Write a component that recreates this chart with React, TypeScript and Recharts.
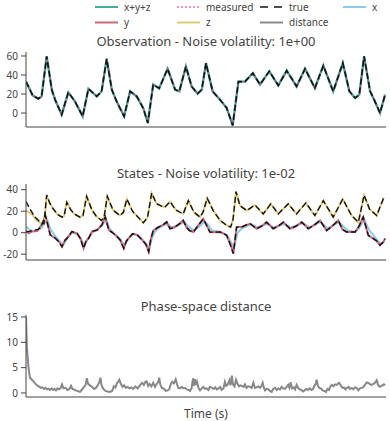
import React from 'react';
import { LineChart, Line, XAxis, YAxis } from 'recharts';

type P = [number, number];

// ---- data: [time (s), value] ----
const xTicks = [0, 3, 6, 9];
const obsTicks = [0, 20, 40, 60];
const stateTicks = [-20, 0, 20, 40];
const distTicks = [0, 5, 10, 15];

const observed: P[] = [[0,33],[0.11,26],[0.22,18.6],[0.41,15],[0.52,17.5],[0.69,59.6],[0.86,24.6],[0.97,14],[1.19,-1.7],[1.41,21.8],[1.63,12.3],[1.89,-3.5],[2.08,25.6],[2.36,17.5],[2.52,22.8],[2.69,57],[2.86,24.6],[3.02,12.3],[3.27,-3.5],[3.47,22.8],[3.69,17.5],[3.91,5],[4.06,-10.5],[4.24,30],[4.44,26],[4.72,46.6],[4.97,24.6],[5.11,22.8],[5.33,49],[5.52,28],[5.72,20.4],[5.86,24.6],[6.0,52.6],[6.22,22.8],[6.47,14],[6.69,5.3],[6.89,-13],[7.08,33],[7.3,33],[7.56,42],[7.8,30],[8.11,43.9],[8.41,29],[8.69,44.6],[9.02,28],[9.3,46.6],[9.63,26.3],[9.91,49.8],[10.24,22.8],[10.56,52.6],[10.78,22.8],[10.97,15.8],[11.11,19.3],[11.27,59.6],[11.47,22.8],[11.63,12.3],[11.8,0],[11.97,19.3]];

const zEst: P[] = [[0,20.6],[0.19,17.5],[0.36,11.4],[0.52,8.3],[0.6,8],[0.69,35],[0.8,27],[0.91,22],[1.05,17],[1.2,14.5],[1.27,15.5],[1.36,28.3],[1.5,21],[1.63,17],[1.8,14.5],[1.9,16],[2.02,33.8],[2.2,21],[2.35,15],[2.52,11.4],[2.6,14],[2.71,33.8],[2.9,21],[3.13,16],[3.25,19],[3.36,31.4],[3.55,20],[3.75,14],[3.91,9.2],[4.05,14],[4.19,36.9],[4.35,27],[4.5,25],[4.63,23.7],[4.8,28.9],[5.0,21],[5.24,17.5],[5.41,29.8],[5.6,19],[5.8,14.5],[5.9,19],[6.04,32],[6.24,20.6],[6.47,11.4],[6.69,6.8],[6.82,5.2],[6.9,12],[7.0,38.2],[7.13,25.2],[7.36,20.6],[7.63,25.8],[7.91,17.5],[8.16,26.8],[8.41,17.5],[8.74,26.8],[9.02,17.5],[9.33,27.7],[9.63,16],[9.91,29.8],[10.24,14.5],[10.56,31.4],[10.85,16],[11.08,9.8],[11.27,35],[11.45,22],[11.69,16],[11.93,32.9]];

const zTrueStart: P[] = [[0,29],[0.13,22],[0.3,14.5],[0.47,9.8],[0.6,8.3]];

const yEst: P[] = [[0,2],[0.09,-0.6],[0.2,1],[0.37,1.6],[0.48,5.6],[0.58,11],[0.64,16.5],[0.72,8],[0.81,-2.1],[0.98,-5.2],[1.1,-8.5],[1.2,-13],[1.3,-7],[1.37,-5.2],[1.53,1],[1.7,-0.6],[1.81,-5.2],[1.92,-14.6],[2.0,-8],[2.09,-5.2],[2.2,1],[2.37,2.5],[2.53,7.2],[2.64,14.9],[2.76,2.5],[2.98,-2.1],[3.14,-6.8],[3.26,-14.6],[3.34,-8],[3.42,-5.2],[3.55,-1],[3.7,-2],[3.85,-6],[4.0,-11],[4.09,-17.7],[4.16,-6],[4.24,2],[4.4,5],[4.55,7],[4.69,10],[4.8,3.7],[4.95,5],[5.1,8],[5.24,11.4],[5.35,5],[5.45,2],[5.58,0.6],[5.74,6.8],[5.91,12.9],[6.0,8],[6.13,0.6],[6.3,0.5],[6.47,0.6],[6.6,-1],[6.69,-2.5],[6.82,-11.7],[6.91,-19.4],[7.02,5.2],[7.19,5.2],[7.32,7],[7.47,8.3],[7.69,3.7],[7.85,6],[8.02,9.8],[8.24,3.7],[8.4,6],[8.58,9.8],[8.8,3.7],[9.0,6],[9.19,9.8],[9.41,3.7],[9.6,7],[9.8,11.4],[10.02,2],[10.2,6],[10.41,11.4],[10.55,3],[10.69,0.6],[10.97,0.6],[11.1,6],[11.24,14.5],[11.41,-2.5],[11.58,-5.5],[11.7,-8],[11.8,-11.7],[11.9,-9],[11.97,-5.5]];

const yTrueStart: P[] = [[0,0.6],[0.1,1.2],[0.25,2.2],[0.4,3],[0.5,5.5]];

const xEst: P[] = [[0,6],[0.1,3],[0.2,1.5],[0.35,2],[0.5,4],[0.62,9],[0.72,11],[0.82,3],[1.0,-4],[1.15,-9],[1.25,-11],[1.37,-5],[1.53,0],[1.7,-1],[1.83,-6],[1.95,-12],[2.05,-6],[2.2,0],[2.37,2.5],[2.55,7],[2.67,12],[2.78,4],[2.98,-2],[3.14,-6],[3.28,-12],[3.42,-5],[3.6,-1],[3.75,-3],[3.9,-7],[4.0,-10],[4.1,-15],[4.2,-5],[4.3,1],[4.45,5],[4.6,7],[4.72,8],[4.85,5],[5.0,6],[5.15,8],[5.27,10],[5.4,6],[5.6,2],[5.75,5],[5.93,10],[6.05,8],[6.2,2],[6.47,1],[6.69,-2],[6.82,-8],[6.93,-15],[7.05,0],[7.2,4],[7.35,6],[7.5,8],[7.72,5],[8.04,8],[8.27,5],[8.6,8],[8.83,5],[9.22,9],[9.45,5],[9.82,10],[10.05,4],[10.43,10],[10.72,2],[10.97,1],[11.1,4],[11.27,12],[11.45,2],[11.6,-3],[11.8,-10],[11.97,-8]];

const distance: P[] = [[0,15],[0.03,9],[0.08,5.2],[0.13,3],[0.2,2.6],[0.26,2.2],[0.32,1.8],[0.37,1.5],[0.45,1.2],[0.5,1.0],[0.55,1.1],[0.6,0.8],[0.65,1.0],[0.7,0.7],[0.75,0.8],[0.8,0.6],[0.85,0.9],[0.9,0.6],[0.95,0.8],[1.0,0.5],[1.05,0.9],[1.1,0.7],[1.15,0.9],[1.2,1.7],[1.25,0.9],[1.32,1.0],[1.38,0.6],[1.45,0.8],[1.5,1.4],[1.55,0.8],[1.63,0.6],[1.7,0.4],[1.8,0.2],[1.87,0.7],[1.93,1.2],[1.98,1.5],[2.03,2.9],[2.07,1.8],[2.13,1.5],[2.2,1.2],[2.27,0.8],[2.33,1.0],[2.4,1.6],[2.45,2.2],[2.48,3.0],[2.52,1.5],[2.58,0.8],[2.65,0.4],[2.72,0.3],[2.8,0.2],[2.87,0.4],[2.93,1.3],[2.98,1.1],[3.03,1.9],[3.08,2.3],[3.11,2.6],[3.16,1.8],[3.22,1.2],[3.27,1.5],[3.33,1.0],[3.38,1.2],[3.45,0.9],[3.52,1.1],[3.58,0.8],[3.65,1.3],[3.72,0.9],[3.8,1.5],[3.87,2.0],[3.93,1.6],[3.98,2.2],[4.02,2.3],[4.07,1.4],[4.12,1.8],[4.18,1.3],[4.24,2.0],[4.3,1.2],[4.36,1.8],[4.41,2.2],[4.44,3.0],[4.48,1.6],[4.53,1.0],[4.6,0.8],[4.66,0.4],[4.72,0.5],[4.78,0.8],[4.83,1.8],[4.88,2.2],[4.93,1.9],[4.99,2.7],[5.03,1.8],[5.08,1.0],[5.13,0.9],[5.2,1.2],[5.25,0.9],[5.3,1.0],[5.36,0.7],[5.42,0.6],[5.47,0.4],[5.52,1.0],[5.56,2.6],[5.58,2.9],[5.6,1.4],[5.63,2.7],[5.67,1.6],[5.7,2.2],[5.75,1.0],[5.8,0.5],[5.86,0.9],[5.91,1.2],[5.97,0.8],[6.02,0.9],[6.08,0.6],[6.13,1.2],[6.2,1.0],[6.26,0.8],[6.31,1.1],[6.36,0.7],[6.42,0.9],[6.47,1.2],[6.52,0.6],[6.58,0.9],[6.63,2.2],[6.67,1.4],[6.72,1.6],[6.78,2.5],[6.82,1.5],[6.86,3.4],[6.9,1.7],[6.95,1.3],[7.0,2.6],[7.05,1.8],[7.1,1.3],[7.15,1.5],[7.19,1.4],[7.25,1.2],[7.3,1.7],[7.35,1.0],[7.41,1.3],[7.47,1.2],[7.52,1.0],[7.58,2.0],[7.63,1.0],[7.68,1.1],[7.74,1.3],[7.8,1.0],[7.85,1.4],[7.89,2.0],[7.93,1.0],[7.97,0.5],[8.03,0.8],[8.08,0.7],[8.13,0.4],[8.19,0.2],[8.24,0.8],[8.3,1.0],[8.36,0.6],[8.41,0.9],[8.47,0.7],[8.52,1.2],[8.58,0.9],[8.63,0.8],[8.69,1.2],[8.74,1.6],[8.78,1.0],[8.82,2.1],[8.87,0.9],[8.93,1.1],[8.97,0.7],[9.02,1.6],[9.08,0.9],[9.13,0.7],[9.19,0.5],[9.24,0.3],[9.3,0.6],[9.35,0.8],[9.41,0.6],[9.46,0.9],[9.52,0.6],[9.57,0.8],[9.61,1.4],[9.66,1.8],[9.69,2.6],[9.73,1.4],[9.78,1.0],[9.84,0.8],[9.89,0.5],[9.95,0.4],[10.0,0.2],[10.05,0.8],[10.1,0.6],[10.15,1.3],[10.19,1.6],[10.25,1.3],[10.3,1.7],[10.36,1.6],[10.41,1.9],[10.44,2.0],[10.5,1.4],[10.55,1.0],[10.6,1.1],[10.65,0.7],[10.7,1.0],[10.75,1.2],[10.8,0.8],[10.86,1.0],[10.91,0.7],[10.97,1.1],[11.02,1.0],[11.08,0.5],[11.13,0.9],[11.19,1.0],[11.25,1.2],[11.3,1.6],[11.36,2.1],[11.41,2.0],[11.47,1.7],[11.52,1.6],[11.58,1.8],[11.63,2.0],[11.69,2.5],[11.74,1.5],[11.8,1.2],[11.86,1.4],[11.93,1.7],[11.97,1.5]];

const rows = (pts: P[]) => pts.map(([t, v]) => ({ t, v }));
const zTrue = [...zTrueStart, ...zEst.slice(5)];
const yTrue = [...yTrueStart, ...yEst.slice(5)];

// ---- styles ----
const FONT = '"Noto Sans", "Open Sans", sans-serif';
const TXT = '#444';
const AX = '#444';
const C = {
  sum: '#44AA99',
  measured: '#CC3377',
  truth: '#111111',
  x: '#88CCEE',
  y: '#CC6677',
  z: '#DDCC77',
  dist: '#888888',
};
const TRUE_DASH = '6 3';
const MEAS_DASH = '2 2';

const tickStyle = { fontSize: 10, fill: TXT, fontFamily: FONT };

function xAxis(h: number) {
  return (
    <XAxis
      type="number"
      dataKey="t"
      domain={[0, 12]}
      ticks={xTicks}
      allowDataOverflow
      tick={false}
      tickSize={4}
      height={h}
      stroke={AX}
      axisLine={{ stroke: AX }}
      tickLine={{ stroke: AX }}
    />
  );
}

function yAxis(domain: [number, number], ticks: number[]) {
  return (
    <YAxis
      type="number"
      domain={domain}
      ticks={ticks}
      allowDataOverflow
      width={26}
      tickSize={5}
      tickMargin={3}
      tick={tickStyle}
      stroke={AX}
      axisLine={{ stroke: AX }}
      tickLine={{ stroke: AX }}
    />
  );
}

function L(props: { pts: any[]; color: string; w?: number; dash?: string; id: string }) {
  return (
    <Line
      key={props.id}
      data={rows(props.pts as P[])}
      dataKey="v"
      type="linear"
      stroke={props.color}
      strokeWidth={props.w ?? 2}
      strokeDasharray={props.dash}
      dot={false}
      activeDot={false}
      isAnimationActive={false}
    />
  );
}

export default function App() {
  const legendRow1 = [
    { x: 95, label: 'x+y+z', color: C.sum, dash: undefined as string | undefined, w: 2 },
    { x: 177, label: 'measured', color: C.measured, dash: MEAS_DASH, w: 1.2 },
    { x: 260, label: 'true', color: C.truth, dash: '8 6', w: 1.5 },
    { x: 343, label: 'x', color: C.x, dash: undefined, w: 2 },
  ];
  const legendRow2 = [
    { x: 95, label: 'y', color: C.y, dash: undefined as string | undefined, w: 2 },
    { x: 177, label: 'z', color: C.z, dash: undefined, w: 2 },
    { x: 260, label: 'distance', color: C.dist, dash: undefined, w: 2 },
  ];
  return (
    <div style={{ position: 'absolute', left: 0, top: 0, width: 390, height: 421, background: '#fff', fontFamily: FONT }}>
      <div style={{ position: 'absolute', left: 0, top: 45 }}>
        <LineChart width={390} height={90} margin={{ top: 7, right: 4, bottom: 0, left: 0 }}>
          {xAxis(8)}
          {yAxis([-14.7, 64.2], obsTicks)}
          {L({ id: 'sum', pts: observed, color: C.sum, w: 2.4 })}
          {L({ id: 'meas', pts: observed, color: C.measured, w: 1.2, dash: MEAS_DASH })}
          {L({ id: 'true', pts: observed, color: C.truth, w: 1.6, dash: TRUE_DASH })}
        </LineChart>
      </div>
      <div style={{ position: 'absolute', left: 0, top: 180 }}>
        <LineChart width={390} height={90} margin={{ top: 4, right: 4, bottom: 0, left: 0 }}>
          {xAxis(10)}
          {yAxis([-25.4, 45.3], stateTicks)}
          {L({ id: 'x', pts: xEst, color: C.x, w: 2 })}
          {L({ id: 'y', pts: yEst, color: C.y, w: 2 })}
          {L({ id: 'z', pts: zEst, color: C.z, w: 2 })}
          {L({ id: 'ty', pts: yTrue, color: C.truth, w: 1.4, dash: TRUE_DASH })}
          {L({ id: 'tz', pts: zTrue, color: C.truth, w: 1.4, dash: TRUE_DASH })}
        </LineChart>
      </div>
      <div style={{ position: 'absolute', left: 0, top: 310 }}>
        <LineChart width={390} height={100} margin={{ top: 5, right: 4, bottom: 0, left: 0 }}>
          {xAxis(13)}
          {yAxis([-0.8, 15.4], distTicks)}
          {L({ id: 'd', pts: distance, color: C.dist, w: 2 })}
        </LineChart>
      </div>
      <svg width={390} height={421} style={{ position: 'absolute', left: 0, top: 0, pointerEvents: 'none' }}>
        {[...legendRow1.map((d) => ({ ...d, y: 7 })), ...legendRow2.map((d) => ({ ...d, y: 22.5 }))].map((d) => (
          <g key={d.label}>
            <line x1={d.x} x2={d.x + 23} y1={d.y} y2={d.y} stroke={d.color} strokeWidth={d.w} strokeDasharray={d.dash} />
            <text x={d.x + 29} y={d.y} dy="0.35em" fontSize={10} fill={TXT} fontFamily={FONT}>{d.label}</text>
          </g>
        ))}
        <text x={206} y={41.5} dy="0.35em" textAnchor="middle" fontSize={13} fill={TXT} fontFamily={FONT}>Observation - Noise volatility: 1e+00</text>
        <text x={206} y={173.5} dy="0.35em" textAnchor="middle" fontSize={13} fill={TXT} fontFamily={FONT}>States - Noise volatility: 1e-02</text>
        <text x={206} y={306.5} dy="0.35em" textAnchor="middle" fontSize={13} fill={TXT} fontFamily={FONT}>Phase-space distance</text>
        <text x={206} y={414} dy="0.35em" textAnchor="middle" fontSize={12} fill={TXT} fontFamily={FONT}>Time (s)</text>
      </svg>
    </div>
  );
}
